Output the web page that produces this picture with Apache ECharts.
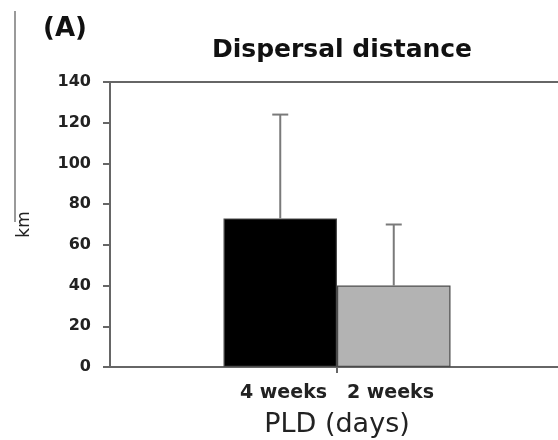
<!DOCTYPE html>
<html>
<head>
<meta charset="utf-8">
<script src="https://cdn.jsdelivr.net/npm/echarts@6/dist/echarts.min.js"></script>
<style>
  html, body { margin: 0; padding: 0; background: #fff; }
  #chart { width: 558px; height: 440px; }
</style>
</head>
<body>
<div id="chart"></div>
<script>
// Pelagic larval duration groups and their mean dispersal distance (km)
var pldGroups = ['4 weeks', '2 weeks'];
var meanDistance = [73, 40];
var upperError = [124, 70];
var yTicks = [0, 20, 40, 60, 80, 100, 120, 140];
var barColors = ['#000000', '#b3b3b3'];

var FONT = 'DejaVu Sans';
var AXIS = '#666666';
var BAR_SHARE = 0.25; // each bar's share of the category band

var chart = echarts.init(document.getElementById('chart'), null, { renderer: 'canvas' });

var barSeries = pldGroups.map(function (name, i) {
  return {
    name: name,
    type: 'bar',
    data: [meanDistance[i]],
    barWidth: (BAR_SHARE * 100) + '%',
    barGap: '0%',
    itemStyle: {
      color: barColors[i],
      borderColor: '#4a4a4a',
      borderWidth: 1.2
    },
    z: 2
  };
});

// upward-only error bars, centred on each bar of the grouped pair
var errorData = pldGroups.map(function (name, i) {
  return [0, meanDistance[i], upperError[i], i];
});

var errorSeries = {
  type: 'custom',
  data: errorData,
  encode: { x: 0, y: 2 },
  z: 3,
  renderItem: function (params, api) {
    var band = api.size([1, 0])[0];
    var bw = band * BAR_SHARE;
    var idx = api.value(3);
    var n = pldGroups.length;
    var base = api.coord([api.value(0), api.value(1)]);
    var top = api.coord([api.value(0), api.value(2)]);
    var x = base[0] + (idx - (n - 1) / 2) * bw;
    var cap = 8;
    var style = { stroke: '#7a7a7a', lineWidth: 2 };
    return {
      type: 'group',
      children: [
        { type: 'line', shape: { x1: x, y1: base[1], x2: x, y2: top[1] }, style: style },
        { type: 'line', shape: { x1: x - cap, y1: top[1], x2: x + cap, y2: top[1] }, style: style }
      ]
    };
  }
};

chart.setOption({
  backgroundColor: '#ffffff',
  animation: false,
  title: [
    {
      text: '(A)',
      left: 38,
      top: 11,
      textStyle: { fontFamily: FONT, fontSize: 26, fontWeight: 'bold', color: '#111' }
    },
    {
      text: 'Dispersal distance',
      left: 337,
      textAlign: 'center',
      top: 33,
      textStyle: { fontFamily: FONT, fontSize: 25, fontWeight: 'bold', color: '#111' }
    }
  ],
  grid: {
    left: 110,
    right: -6,
    top: 82,
    bottom: 73,
    outerBoundsMode: 'none',
    containLabel: false,
    show: true,
    borderColor: AXIS,
    borderWidth: 2,
    backgroundColor: 'transparent'
  },
  xAxis: {
    type: 'category',
    data: [pldGroups.join('   ')],
    name: 'PLD (days)',
    nameLocation: 'middle',
    nameGap: 44,
    nameTextStyle: { fontFamily: FONT, fontSize: 27, color: '#222' },
    axisLine: { show: true, lineStyle: { color: AXIS, width: 2 } },
    axisTick: { show: true, alignWithLabel: true, length: 6, lineStyle: { color: AXIS, width: 2 } },
    axisLabel: { fontFamily: FONT, fontSize: 19, fontWeight: 'bold', color: '#222', margin: 17 },
    splitLine: { show: false }
  },
  yAxis: {
    type: 'value',
    min: yTicks[0],
    max: yTicks[yTicks.length - 1],
    interval: yTicks[1] - yTicks[0],
    name: 'km',
    nameLocation: 'middle',
    nameGap: 77,
    nameRotate: 90,
    nameTextStyle: { fontFamily: FONT, fontSize: 17, color: '#222' },
    axisLine: { show: true, lineStyle: { color: AXIS, width: 2 } },
    axisTick: { show: true, inside: false, length: 7, lineStyle: { color: AXIS, width: 2 } },
    axisLabel: { fontFamily: FONT, fontSize: 16, fontWeight: 'bold', color: '#222', margin: 19 },
    splitLine: { show: false }
  },
  graphic: [
    {
      type: 'line',
      shape: { x1: 15, y1: 11, x2: 15, y2: 222 },
      style: { stroke: '#9a9a9a', lineWidth: 2 }
    }
  ],
  series: barSeries.concat([errorSeries])
});
</script>
</body>
</html>
